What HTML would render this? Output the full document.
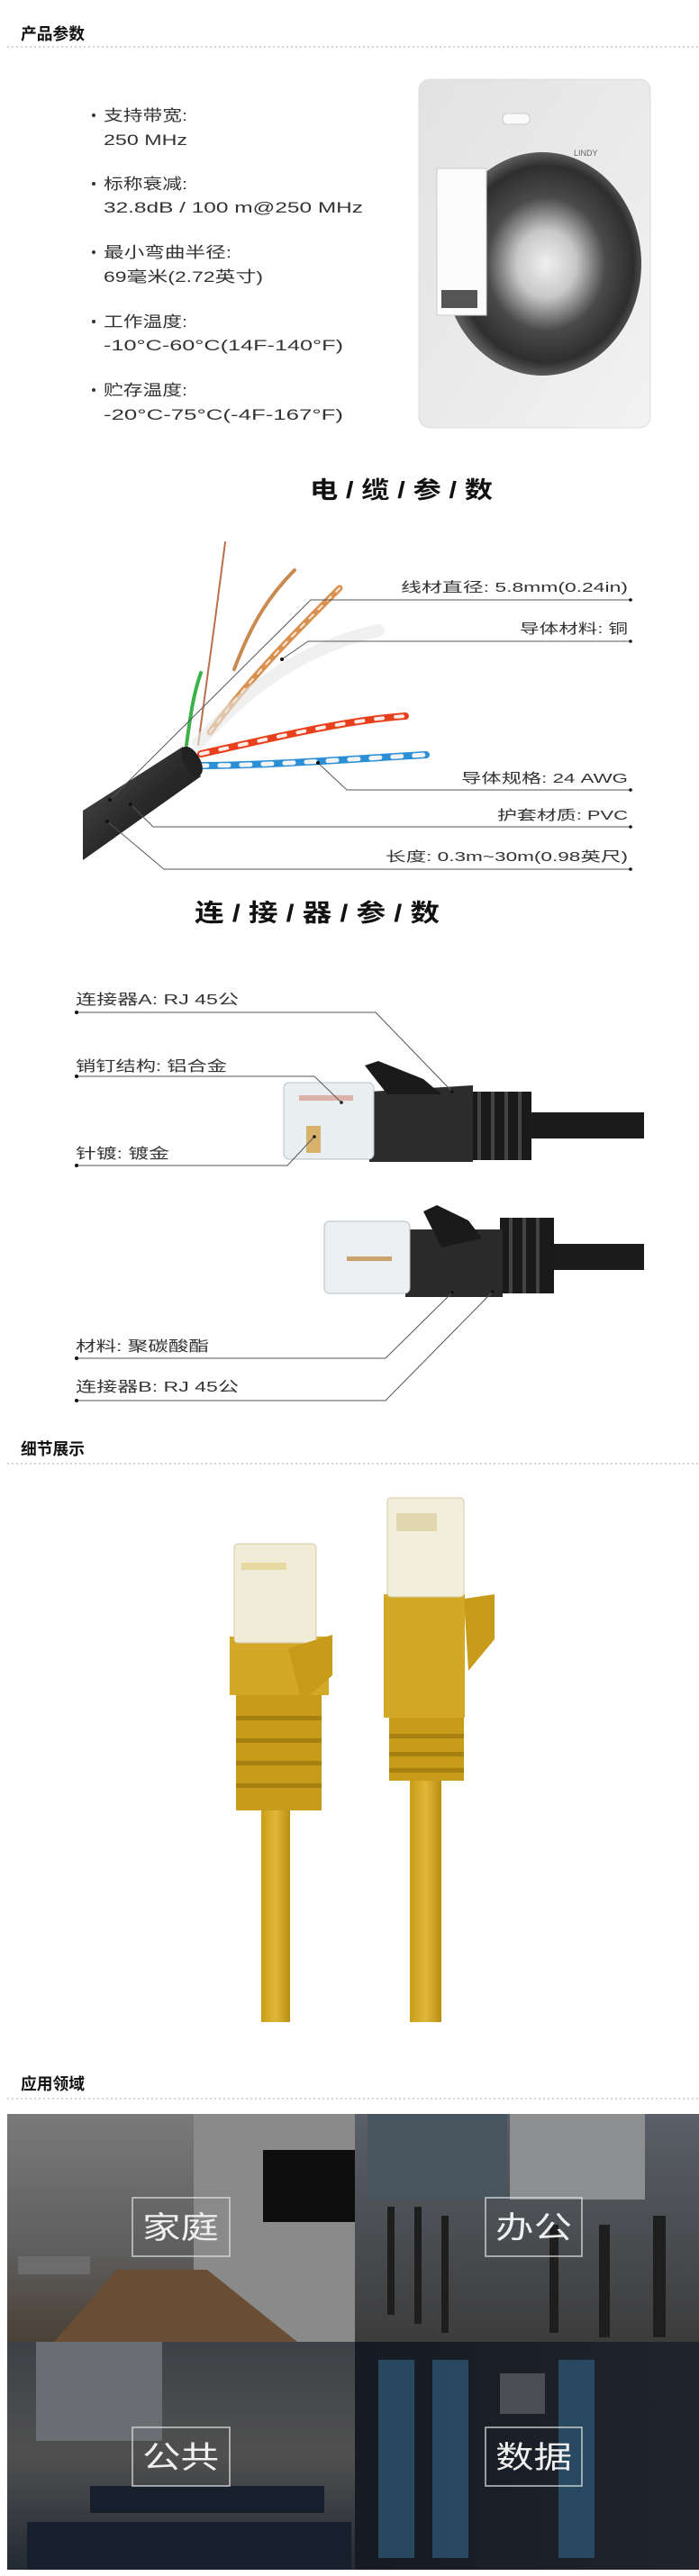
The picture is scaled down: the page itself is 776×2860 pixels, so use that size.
<!DOCTYPE html>
<html><head><meta charset="utf-8"><style>
html,body{margin:0;padding:0;background:#fff;width:776px;height:2860px;overflow:hidden}
svg{display:block}
text{font-family:"Liberation Sans","Noto Sans CJK SC",sans-serif}
</style></head><body>
<svg width="776" height="2860" viewBox="0 0 776 2860" xmlns="http://www.w3.org/2000/svg">
<defs>
<linearGradient id="pk" x1="0" y1="0" x2="1" y2="1"><stop offset="0" stop-color="#e2e2e2"/><stop offset="1" stop-color="#f2f2f2"/></linearGradient>
<radialGradient id="ring" cx="0.52" cy="0.5" r="0.5"><stop offset="0" stop-color="#f0f0f0"/><stop offset="0.3" stop-color="#c8c8c8"/><stop offset="0.6" stop-color="#4a4a4a"/><stop offset="0.88" stop-color="#2e2e2e"/><stop offset="1" stop-color="#5a5a5a"/></radialGradient>
<linearGradient id="jk" x1="0" y1="0" x2="1" y2="1"><stop offset="0" stop-color="#555"/><stop offset="0.5" stop-color="#2a2a2a"/><stop offset="1" stop-color="#111"/></linearGradient>
<linearGradient id="yl" x1="0" y1="0" x2="1" y2="0"><stop offset="0" stop-color="#c99d16"/><stop offset="0.5" stop-color="#e0b73a"/><stop offset="1" stop-color="#b88f12"/></linearGradient>
<linearGradient id="q1" x1="0" y1="0" x2="0" y2="1"><stop offset="0" stop-color="#7a7a7a"/><stop offset="0.6" stop-color="#5e5e5e"/><stop offset="1" stop-color="#4a4036"/></linearGradient>
<linearGradient id="q2" x1="0" y1="0" x2="0" y2="1"><stop offset="0" stop-color="#5a6068"/><stop offset="1" stop-color="#3c3c3c"/></linearGradient>
<linearGradient id="q3" x1="0" y1="0" x2="0" y2="1"><stop offset="0" stop-color="#3e4246"/><stop offset="0.5" stop-color="#505050"/><stop offset="1" stop-color="#222a33"/></linearGradient>
<linearGradient id="q4" x1="0" y1="0" x2="1" y2="0"><stop offset="0" stop-color="#161a22"/><stop offset="1" stop-color="#20242c"/></linearGradient>
</defs>

<text x="23" y="44" font-size="18" font-weight="bold" fill="#111" textLength="71" lengthAdjust="spacingAndGlyphs">产品参数</text>
<line x1="8" y1="52" x2="776" y2="52" stroke="#aaa" stroke-dasharray="2 3"/>
<g fill="#333" font-size="17">
<circle cx="104" cy="128" r="2"/><text x="115" y="134" textLength="93" lengthAdjust="spacingAndGlyphs">支持带宽:</text>
<text x="115" y="161" textLength="93" lengthAdjust="spacingAndGlyphs">250 MHz</text>
<circle cx="104" cy="204" r="2"/><text x="115" y="210" textLength="93" lengthAdjust="spacingAndGlyphs">标称衰减:</text>
<text x="115" y="236" textLength="288" lengthAdjust="spacingAndGlyphs">32.8dB / 100 m@250 MHz</text>
<circle cx="104" cy="280" r="2"/><text x="115" y="286" textLength="142" lengthAdjust="spacingAndGlyphs">最小弯曲半径:</text>
<text x="115" y="313" textLength="177" lengthAdjust="spacingAndGlyphs">69毫米(2.72英寸)</text>
<circle cx="104" cy="357" r="2"/><text x="115" y="363" textLength="93" lengthAdjust="spacingAndGlyphs">工作温度:</text>
<text x="115" y="389" textLength="266" lengthAdjust="spacingAndGlyphs">-10°C-60°C(14F-140°F)</text>
<circle cx="104" cy="433" r="2"/><text x="115" y="439" textLength="93" lengthAdjust="spacingAndGlyphs">贮存温度:</text>
<text x="115" y="466" textLength="266" lengthAdjust="spacingAndGlyphs">-20°C-75°C(-4F-167°F)</text>
</g>
<rect x="465" y="88" width="257" height="387" rx="12" fill="url(#pk)" stroke="#ddd"/>
<rect x="558" y="126" width="30" height="12" rx="5" fill="#fafafa" stroke="#ccc"/>
<ellipse cx="602" cy="293" rx="110" ry="124" fill="url(#ring)"/>
<rect x="485" y="187" width="55" height="163" fill="#fbfbfb" stroke="#ccc"/>
<rect x="490" y="322" width="40" height="20" fill="#555"/>
<text x="637" y="173" font-size="9" fill="#666">LINDY</text>

<text x="344" y="553" font-size="26" font-weight="bold" fill="#111" textLength="203" lengthAdjust="spacingAndGlyphs">电 / 缆 / 参 / 数</text>
<g fill="none" stroke-linecap="round">
<path d="M220,827 C232,740 240,680 250,602" stroke="#b8704a" stroke-width="2"/>
<path d="M260,743 C280,690 300,660 327,633" stroke="#c98a50" stroke-width="4"/>
<path d="M233,813 C280,750 330,700 377,653" stroke="#d9914f" stroke-width="7"/>
<path d="M233,813 C280,750 330,700 377,653" stroke="#fff" stroke-width="2" stroke-dasharray="6 8" opacity="0.8"/>
<path d="M207,827 C212,790 215,770 223,747" stroke="#3cb34a" stroke-width="4"/>
<path d="M220,825 C270,770 330,720 420,700" stroke="#e6e6e6" stroke-width="14" opacity="0.6"/>
<path d="M223,837 C300,820 380,800 450,795" stroke="#e8401c" stroke-width="8"/>
<path d="M223,837 C300,820 380,800 450,795" stroke="#fff" stroke-width="4" stroke-dasharray="8 14" opacity="0.9"/>
<path d="M220,850 C300,850 400,842 473,838" stroke="#2b8fd6" stroke-width="8"/>
<path d="M220,850 C300,850 400,842 473,838" stroke="#f4f4f4" stroke-width="5" stroke-dasharray="10 14"/>
</g>
<polygon points="92,900 203,829 223,862 92,955" fill="url(#jk)"/>
<ellipse cx="213" cy="845" rx="9" ry="18" transform="rotate(-30 213 845)" fill="#222"/>
<g fill="none" stroke="#555" stroke-width="1">
<polyline points="122,888 345,666 700,666"/>
<polyline points="313,732 342,712 700,712"/>
<polyline points="353,847 385,877 700,877"/>
<polyline points="145,893 170,918 700,918"/>
<polyline points="119,912 182,965 700,965"/>
</g>
<g fill="#111">
<circle cx="122" cy="888" r="2"/><circle cx="313" cy="732" r="2"/><circle cx="353" cy="847" r="2"/><circle cx="145" cy="893" r="2"/><circle cx="119" cy="912" r="2"/>
<circle cx="700" cy="666" r="1.8"/><circle cx="700" cy="712" r="1.8"/><circle cx="700" cy="877" r="1.8"/><circle cx="700" cy="918" r="1.8"/><circle cx="700" cy="965" r="1.8"/>
</g>
<g fill="#333" font-size="15">
<text x="445" y="657" textLength="252" lengthAdjust="spacingAndGlyphs">线材直径: 5.8mm(0.24in)</text>
<text x="577" y="703" textLength="120" lengthAdjust="spacingAndGlyphs">导体材料: 铜</text>
<text x="512" y="869" textLength="185" lengthAdjust="spacingAndGlyphs">导体规格: 24 AWG</text>
<text x="552" y="910" textLength="145" lengthAdjust="spacingAndGlyphs">护套材质: PVC</text>
<text x="428" y="956" textLength="269" lengthAdjust="spacingAndGlyphs">长度: 0.3m~30m(0.98英尺)</text>
</g>

<text x="216" y="1023" font-size="27" font-weight="bold" fill="#111" textLength="272" lengthAdjust="spacingAndGlyphs">连 / 接 / 器 / 参 / 数</text>

<rect x="585" y="1235" width="130" height="29" fill="#1c1c1c"/>
<rect x="520" y="1212" width="70" height="76" fill="#1a1a1a"/>
<g fill="#444"><rect x="530" y="1212" width="4" height="76"/><rect x="545" y="1212" width="4" height="76"/><rect x="560" y="1212" width="4" height="76"/><rect x="575" y="1212" width="4" height="76"/></g>
<polygon points="410,1212 525,1205 525,1290 410,1290" fill="#2c2c2c"/>
<polygon points="405,1183 420,1178 470,1198 490,1215 430,1215" fill="#1a1a1a"/>
<rect x="315" y="1202" width="100" height="85" rx="6" fill="#e9eef0" stroke="#b9c0c4"/>
<rect x="340" y="1250" width="16" height="30" fill="#d8b26a"/>
<rect x="332" y="1216" width="60" height="6" fill="#d98a7a" opacity="0.6"/>
<rect x="610" y="1381" width="105" height="29" fill="#1c1c1c"/>
<rect x="555" y="1352" width="60" height="84" fill="#1a1a1a"/>
<g fill="#444"><rect x="565" y="1352" width="4" height="84"/><rect x="580" y="1352" width="4" height="84"/><rect x="595" y="1352" width="4" height="84"/></g>
<rect x="450" y="1365" width="108" height="75" fill="#2a2a2a"/>
<polygon points="470,1345 485,1338 520,1355 535,1375 490,1385" fill="#1a1a1a"/>
<rect x="360" y="1356" width="95" height="80" rx="6" fill="#ecf0f2" stroke="#b9c0c4"/>
<rect x="385" y="1395" width="50" height="5" fill="#c9a46a"/>
<g fill="none" stroke="#555" stroke-width="1">
<polyline points="85,1124 417,1124 502,1212"/>
<polyline points="85,1195 349,1195 379,1224"/>
<polyline points="85,1294 319,1294 349,1262"/>
<polyline points="85,1508 428,1508 502,1435"/>
<polyline points="85,1555 428,1555 547,1434"/>
</g>
<g fill="#111">
<circle cx="85" cy="1124" r="2"/><circle cx="85" cy="1195" r="2"/><circle cx="85" cy="1294" r="2"/><circle cx="85" cy="1508" r="2"/><circle cx="85" cy="1555" r="2"/>
<circle cx="502" cy="1212" r="1.8"/><circle cx="379" cy="1224" r="1.8"/><circle cx="349" cy="1262" r="1.8"/><circle cx="502" cy="1435" r="1.8"/><circle cx="547" cy="1434" r="1.8"/>
</g>
<g fill="#333" font-size="16">
<text x="84" y="1115" textLength="181" lengthAdjust="spacingAndGlyphs">连接器A: RJ 45公</text>
<text x="84" y="1189" textLength="168" lengthAdjust="spacingAndGlyphs">销钉结构: 铝合金</text>
<text x="84" y="1286" textLength="104" lengthAdjust="spacingAndGlyphs">针镀: 镀金</text>
<text x="84" y="1500" textLength="148" lengthAdjust="spacingAndGlyphs">材料: 聚碳酸酯</text>
<text x="84" y="1545" textLength="181" lengthAdjust="spacingAndGlyphs">连接器B: RJ 45公</text>
</g>

<text x="23" y="1615" font-size="18" font-weight="bold" fill="#111" textLength="71" lengthAdjust="spacingAndGlyphs">细节展示</text>
<line x1="8" y1="1625" x2="776" y2="1625" stroke="#aaa" stroke-dasharray="2 3"/>
<rect x="290" y="2000" width="32" height="245" fill="url(#yl)"/>
<rect x="262" y="1880" width="95" height="130" fill="#c89c1a"/>
<g fill="#a57f10"><rect x="262" y="1905" width="95" height="5"/><rect x="262" y="1930" width="95" height="5"/><rect x="262" y="1955" width="95" height="5"/><rect x="262" y="1980" width="95" height="5"/></g>
<rect x="255" y="1817" width="110" height="65" fill="#d3a827"/>
<rect x="260" y="1714" width="91" height="110" rx="4" fill="#f1ecd8" stroke="#d4c9a0"/>
<rect x="268" y="1735" width="50" height="8" fill="#e8d9a0"/>
<polygon points="320,1830 369,1815 369,1860 335,1890" fill="#c89c1a"/>
<rect x="455" y="1975" width="35" height="270" fill="url(#yl)"/>
<rect x="432" y="1905" width="83" height="72" fill="#c89c1a"/>
<g fill="#a57f10"><rect x="432" y="1925" width="83" height="5"/><rect x="432" y="1945" width="83" height="5"/><rect x="432" y="1963" width="83" height="5"/></g>
<rect x="426" y="1770" width="90" height="137" fill="#d3a827"/>
<rect x="430" y="1663" width="85" height="110" rx="4" fill="#f2eedc" stroke="#d4c9a0"/>
<rect x="440" y="1680" width="45" height="20" fill="#e2d6b0"/>
<polygon points="515,1775 549,1770 549,1820 520,1855" fill="#c89c1a"/>

<text x="23" y="2320" font-size="18" font-weight="bold" fill="#111" textLength="71" lengthAdjust="spacingAndGlyphs">应用领域</text>
<line x1="8" y1="2330" x2="776" y2="2330" stroke="#aaa" stroke-dasharray="2 3"/>
<rect x="8" y="2347" width="386" height="253" fill="url(#q1)"/>
<rect x="215" y="2347" width="179" height="253" fill="#8a8a8a"/>
<rect x="292" y="2387" width="102" height="80" fill="#0e0e0e"/>
<polygon points="130,2520 230,2520 330,2600 60,2600" fill="#6a4e34"/>
<rect x="20" y="2505" width="80" height="20" fill="#6c6c6c"/>
<rect x="394" y="2347" width="382" height="253" fill="url(#q2)"/>
<rect x="408" y="2347" width="155" height="95" fill="#48545e"/>
<rect x="566" y="2347" width="150" height="95" fill="#8c8e90"/>
<g fill="#1e1e1e"><rect x="430" y="2450" width="8" height="120"/><rect x="460" y="2450" width="8" height="130"/><rect x="490" y="2460" width="8" height="130"/><rect x="610" y="2470" width="10" height="120"/><rect x="665" y="2470" width="12" height="125"/><rect x="725" y="2460" width="14" height="135"/></g>
<rect x="8" y="2600" width="386" height="253" fill="url(#q3)"/>
<rect x="40" y="2600" width="140" height="110" fill="#6a6e72"/>
<g fill="#16202c"><rect x="30" y="2800" width="360" height="53"/><rect x="100" y="2760" width="260" height="30"/></g>
<rect x="394" y="2600" width="382" height="253" fill="url(#q4)"/>
<g fill="#2d5470" opacity="0.8"><rect x="420" y="2620" width="40" height="220"/><rect x="480" y="2620" width="40" height="220"/><rect x="620" y="2620" width="40" height="220"/></g>
<rect x="555" y="2635" width="50" height="45" fill="#4a4d52"/>
<g fill="none" stroke="#e0e0e0" stroke-width="1.5" opacity="0.85">
<rect x="147" y="2440" width="108" height="65"/><rect x="539" y="2440" width="107" height="65"/>
<rect x="147" y="2695" width="108" height="65"/><rect x="539" y="2695" width="107" height="65"/>
</g>
<g fill="#f0f0f0" font-size="34">
<text x="158" y="2485" textLength="85" lengthAdjust="spacingAndGlyphs">家庭</text>
<text x="550" y="2485" textLength="85" lengthAdjust="spacingAndGlyphs">办公</text>
<text x="158" y="2740" textLength="85" lengthAdjust="spacingAndGlyphs">公共</text>
<text x="550" y="2740" textLength="85" lengthAdjust="spacingAndGlyphs">数据</text>
</g>
</svg>
</body></html>
